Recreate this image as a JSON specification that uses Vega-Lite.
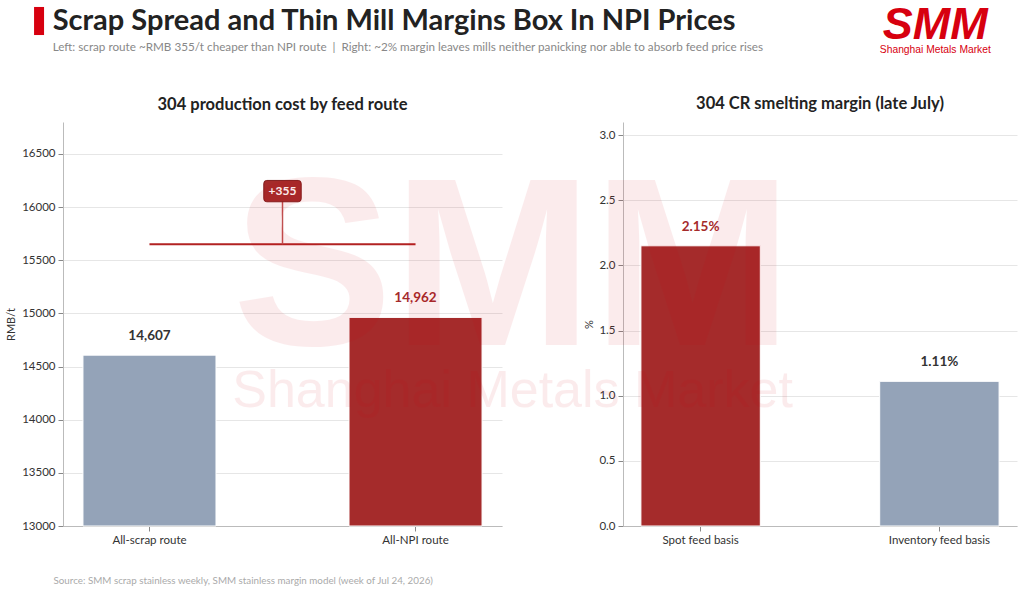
{
  "$schema": "https://vega.github.io/schema/vega-lite/v6.json",
  "background": "white",
  "padding": {"left": 5, "top": 1, "right": 8, "bottom": 4},
  "title": {
    "text": "Scrap Spread and Thin Mill Margins Box In NPI Prices",
    "subtitle": "Left: scrap route ~RMB 355/t cheaper than NPI route \u00a0|\u00a0 Right: ~2% margin leaves mills neither panicking nor able to absorb feed price rises",
    "anchor": "start",
    "dx": 47,
    "offset": -52,
    "font": "Lato",
    "fontSize": 29,
    "fontWeight": "bold",
    "color": "#222222",
    "subtitleFont": "Lato",
    "subtitleFontSize": 11.7,
    "subtitleColor": "#888888",
    "subtitlePadding": 6
  },
  "bounds": "flush",
  "spacing": 121,
  "hconcat": [
    {
      "width": 439,
      "height": 404,
      "layer": [
        {
          "data": {"values": [
            {"route": "All-scrap route", "cost": 14607, "emph": "no"},
            {"route": "All-NPI route", "cost": 14962, "emph": "yes"}
          ]},
          "layer": [
            {
              "mark": {"type": "bar", "stroke": "white", "strokeWidth": 1},
              "encoding": {
                "x": {
                  "field": "route", "type": "nominal",
                  "scale": {"domain": ["All-scrap route", "All-NPI route"], "paddingInner": 0.5, "paddingOuter": 0.075},
                  "axis": {
                    "title": "Source: SMM scrap stainless weekly, SMM stainless margin model (week of Jul 24, 2026)",
                    "titleX": -10, "titleY": 54, "titleAlign": "left", "titleBaseline": "middle",
                    "titleFontSize": 9.8, "titleColor": "#aaaaaa", "titleFontWeight": "normal",
                    "labelAngle": 0, "grid": false
                  }
                },
                "y": {
                  "field": "cost", "type": "quantitative",
                  "scale": {"domain": [13000, 16800], "zero": false, "nice": false},
                  "axis": {"title": "RMB/t", "values": [13000, 13500, 14000, 14500, 15000, 15500, 16000, 16500], "format": "d", "titlePadding": 5}
                },
                "y2": {"datum": 13000},
                "color": {"field": "emph", "type": "nominal", "scale": {"domain": ["yes", "no"], "range": ["#a52b2b", "#94a3b8"]}, "legend": null}
              }
            },
            {
              "mark": {"type": "text", "baseline": "alphabetic", "dy": -15, "fontSize": 13.5, "fontWeight": "bold", "font": "Lato"},
              "encoding": {
                "x": {"field": "route", "type": "nominal"},
                "y": {"field": "cost", "type": "quantitative"},
                "text": {"field": "cost", "type": "quantitative", "format": ","},
                "color": {"condition": {"test": "datum.emph === 'yes'", "value": "#a52b2b"}, "value": "#333333"}
              }
            }
          ]
        },
        {
          "data": {"values": [
            {"from": "All-scrap route", "to": "All-NPI route", "level": 15650, "top": 16150, "diff": "+355"}
          ]},
          "layer": [
            {
              "mark": {"type": "rule", "color": "#b22222", "strokeWidth": 2},
              "encoding": {
                "x": {"field": "from", "type": "nominal"},
                "x2": {"field": "to"},
                "y": {"field": "level", "type": "quantitative"}
              }
            },
            {
              "mark": {"type": "rule", "color": "#c05050", "strokeWidth": 1.5},
              "encoding": {
                "x": {"field": "from", "type": "nominal", "bandPosition": 1.5},
                "y": {"field": "level", "type": "quantitative"},
                "y2": {"field": "top"}
              }
            },
            {
              "mark": {
                "type": "point", "filled": true, "opacity": 1, "size": 1400,
                "fill": "#a52b2b", "stroke": "#7f1d1d", "strokeWidth": 1,
                "shape": "M -0.84 -0.57 L 0.84 -0.57 Q 1 -0.57 1 -0.41 L 1 0.41 Q 1 0.57 0.84 0.57 L -0.84 0.57 Q -1 0.57 -1 0.41 L -1 -0.41 Q -1 -0.57 -0.84 -0.57 Z"
              },
              "encoding": {
                "x": {"field": "from", "type": "nominal", "bandPosition": 1.5},
                "y": {"field": "top", "type": "quantitative"}
              }
            },
            {
              "mark": {"type": "text", "color": "white", "fontSize": 12, "fontWeight": "bold", "font": "Lato", "baseline": "middle"},
              "encoding": {
                "x": {"field": "from", "type": "nominal", "bandPosition": 1.5},
                "y": {"field": "top", "type": "quantitative"},
                "text": {"field": "diff"}
              }
            }
          ]
        },
        {
          "data": {"values": [{}]},
          "layer": [
            {
              "mark": {"type": "rule", "color": "#d7000f", "strokeWidth": 10},
              "encoding": {
                "x": {"datum": "All-scrap route", "type": "nominal", "bandPosition": -0.33},
                "y": {"datum": 17618},
                "y2": {"datum": 17882}
              }
            },
            {
              "mark": {"type": "text", "text": "304 production cost by feed route", "font": "Lato", "fontSize": 16.5, "fontWeight": "bold", "color": "#222222", "align": "center", "baseline": "alphabetic"},
              "encoding": {
                "x": {"datum": "All-scrap route", "type": "nominal", "bandPosition": 1.5},
                "y": {"datum": 16917}
              }
            }
          ]
        }
      ]
    },
    {
      "width": 394,
      "height": 404,
      "layer": [
        {
          "data": {"values": [
            {"basis": "Spot feed basis", "margin": 2.15, "label": "2.15%", "emph": "yes"},
            {"basis": "Inventory feed basis", "margin": 1.11, "label": "1.11%", "emph": "no"}
          ]},
          "layer": [
            {
              "mark": {"type": "bar", "stroke": "white", "strokeWidth": 1},
              "encoding": {
                "x": {
                  "field": "basis", "type": "nominal",
                  "scale": {"domain": ["Spot feed basis", "Inventory feed basis"], "paddingInner": 0.5, "paddingOuter": 0.075},
                  "axis": {"title": null, "labelAngle": 0, "grid": false}
                },
                "y": {
                  "field": "margin", "type": "quantitative",
                  "scale": {"domain": [0, 3.1], "nice": false},
                  "axis": {"title": "%", "values": [0, 0.5, 1, 1.5, 2, 2.5, 3], "format": ".1f", "titlePadding": 4}
                },
                "color": {"field": "emph", "type": "nominal", "scale": {"domain": ["yes", "no"], "range": ["#a52b2b", "#94a3b8"]}, "legend": null}
              }
            },
            {
              "mark": {"type": "text", "baseline": "alphabetic", "dy": -15, "fontSize": 13.5, "fontWeight": "bold", "font": "Lato"},
              "encoding": {
                "x": {"field": "basis", "type": "nominal"},
                "y": {"field": "margin", "type": "quantitative"},
                "text": {"field": "label"},
                "color": {"condition": {"test": "datum.emph === 'yes'", "value": "#a52b2b"}, "value": "#333333"}
              }
            }
          ]
        },
        {
          "data": {"values": [{}]},
          "layer": [
            {
              "mark": {"type": "text", "text": "304 CR smelting margin (late July)", "font": "Lato", "fontSize": 16.5, "fontWeight": "bold", "color": "#222222", "align": "center", "baseline": "alphabetic"},
              "encoding": {
                "x": {"datum": "Spot feed basis", "type": "nominal", "bandPosition": 1.5},
                "y": {"datum": 3.196}
              }
            },
            {
              "mark": {"type": "text", "text": "SMM", "font": "Liberation Sans", "fontSize": 240, "fontWeight": "bold", "color": "#d7000f", "opacity": 0.075, "align": "center", "baseline": "alphabetic"},
              "encoding": {
                "x": {"datum": "Spot feed basis", "type": "nominal", "bandPosition": -1.075},
                "y": {"datum": 1.389}
              }
            },
            {
              "mark": {"type": "text", "text": "Shanghai Metals Market", "font": "Liberation Sans", "fontSize": 52, "color": "#d7000f", "opacity": 0.075, "align": "center", "baseline": "alphabetic"},
              "encoding": {
                "x": {"datum": "Spot feed basis", "type": "nominal", "bandPosition": -1.075},
                "y": {"datum": 0.913}
              }
            },
            {
              "mark": {"type": "text", "text": "SMM", "font": "Liberation Sans", "fontSize": 45, "fontWeight": "bold", "fontStyle": "italic", "color": "#d7000f", "align": "center", "baseline": "alphabetic"},
              "encoding": {
                "x": {"datum": "Inventory feed basis", "type": "nominal", "bandPosition": 0.466},
                "y": {"datum": 3.737}
              }
            },
            {
              "mark": {"type": "text", "text": "Shanghai Metals Market", "font": "Liberation Sans", "fontSize": 10.3, "color": "#d7000f", "align": "center", "baseline": "alphabetic"},
              "encoding": {
                "x": {"datum": "Inventory feed basis", "type": "nominal", "bandPosition": 0.466},
                "y": {"datum": 3.626}
              }
            }
          ]
        }
      ]
    }
  ],
  "config": {
    "view": {"stroke": null},
    "font": "Lato",
    "axis": {
      "labelFont": "Lato", "labelFontSize": 11.5, "labelColor": "#333333", "labelPadding": 3,
      "domainColor": "#bbbbbb", "tickColor": "#888888", "tickSize": 5,
      "gridColor": "#e6e6e6", "titleFont": "Lato", "titleFontWeight": "normal", "titleFontSize": 11, "titleColor": "#333333"
    }
  }
}
